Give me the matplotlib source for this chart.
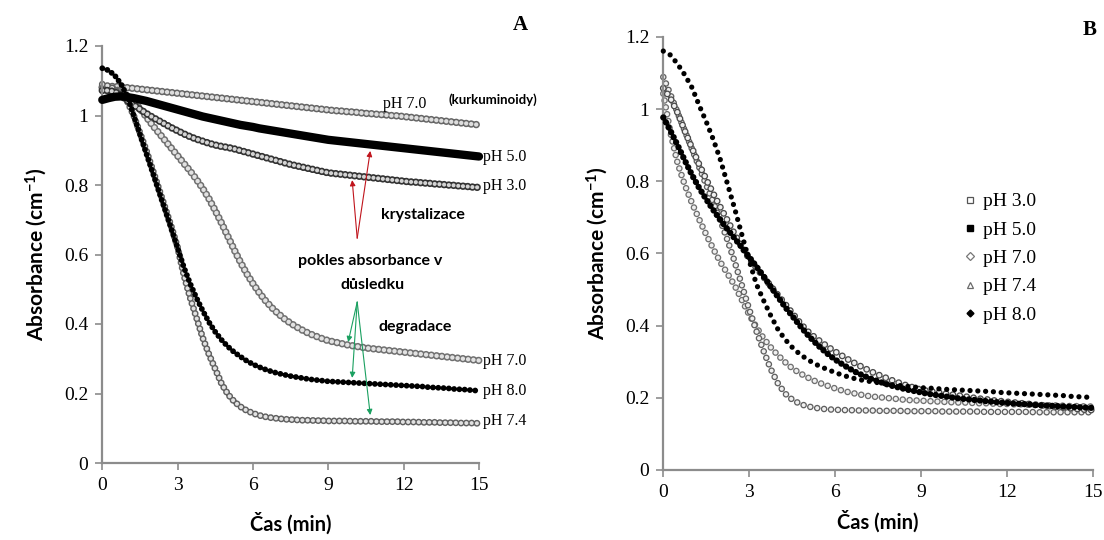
import matplotlib
matplotlib.use("Agg")
import matplotlib.pyplot as plt
from matplotlib.lines import Line2D

plt.rcParams['mathtext.fontset'] = 'custom'
plt.rcParams['mathtext.rm'] = 'Lato:bold'
plt.rcParams['mathtext.it'] = 'Lato:bold'
plt.rcParams['mathtext.bf'] = 'Lato:bold'
plt.rcParams['lines.scale_dashes'] = False

# ---------------- data ----------------
T = [0, 0.25, 0.5, 0.75, 1, 1.25, 1.5, 1.75, 2, 2.25, 2.5, 2.75,
     3, 3.25, 3.5, 3.75, 4, 4.25, 4.5, 4.75, 5, 5.25, 5.5, 5.75,
     6, 6.25, 6.5, 6.75, 7, 7.25, 7.5, 7.75, 8, 8.25, 8.5, 8.75,
     9, 9.25, 9.5, 9.75, 10, 10.25, 10.5, 10.75, 11, 11.25, 11.5, 11.75,
     12, 12.25, 12.5, 12.75, 13, 13.25, 13.5, 13.75, 14, 14.25, 14.5, 14.75,
     15]

# Panel A
A_K70 = [1.080, 1.083, 1.084, 1.082, 1.080, 1.078, 1.076, 1.074, 1.072, 1.070, 1.068, 1.066,
         1.064, 1.062, 1.060, 1.058, 1.056, 1.054, 1.052, 1.050, 1.048, 1.046, 1.044, 1.042,
         1.040, 1.038, 1.036, 1.034, 1.032, 1.030, 1.028, 1.026, 1.024, 1.022, 1.020, 1.018,
         1.016, 1.014, 1.013, 1.011, 1.010, 1.008, 1.006, 1.005, 1.003, 1.002, 1.000, 0.999,
         0.997, 0.995, 0.993, 0.991, 0.989, 0.987, 0.985, 0.983, 0.981, 0.979, 0.977, 0.975,
         0.973]
A_P50 = [1.045, 1.050, 1.054, 1.055, 1.053, 1.050, 1.046, 1.042, 1.037, 1.032, 1.027, 1.022,
         1.017, 1.012, 1.007, 1.002, 0.997, 0.993, 0.989, 0.985, 0.981, 0.977, 0.973, 0.970,
         0.967, 0.963, 0.960, 0.957, 0.954, 0.951, 0.948, 0.945, 0.942, 0.939, 0.936, 0.933,
         0.930, 0.928, 0.926, 0.924, 0.922, 0.920, 0.918, 0.916, 0.914, 0.912, 0.910, 0.908,
         0.906, 0.904, 0.902, 0.900, 0.898, 0.896, 0.894, 0.892, 0.890, 0.888, 0.886, 0.884,
         0.882]
A_P30 = [1.072, 1.072, 1.068, 1.058, 1.043, 1.030, 1.018, 1.006, 0.995, 0.985, 0.975, 0.965,
         0.956, 0.947, 0.939, 0.932, 0.926, 0.920, 0.915, 0.911, 0.908, 0.904, 0.899, 0.894,
         0.889, 0.884, 0.879, 0.874, 0.869, 0.864, 0.859, 0.855, 0.851, 0.847, 0.843, 0.839,
         0.835, 0.833, 0.831, 0.829, 0.827, 0.825, 0.823, 0.821, 0.819, 0.817, 0.815, 0.813,
         0.811, 0.809, 0.808, 0.806, 0.805, 0.803, 0.802, 0.800, 0.799, 0.797, 0.796, 0.794,
         0.793]
A_P70 = [1.082, 1.080, 1.076, 1.068, 1.056, 1.040, 1.020, 0.996, 0.972, 0.950, 0.928, 0.906,
         0.884, 0.862, 0.840, 0.816, 0.790, 0.760, 0.726, 0.690, 0.652, 0.614, 0.578, 0.545,
         0.516, 0.490, 0.467, 0.447, 0.430, 0.415, 0.402, 0.391, 0.381, 0.372, 0.365, 0.358,
         0.352, 0.348, 0.344, 0.340, 0.337, 0.334, 0.331, 0.329, 0.327, 0.325, 0.323, 0.321,
         0.319, 0.317, 0.315, 0.313, 0.311, 0.309, 0.307, 0.305, 0.303, 0.301, 0.299, 0.297,
         0.295]
A_P80 = [1.136, 1.130, 1.115, 1.090, 1.055, 1.000, 0.945, 0.891, 0.837, 0.782, 0.728, 0.673,
         0.618, 0.563, 0.516, 0.475, 0.438, 0.405, 0.377, 0.354, 0.335, 0.319, 0.306, 0.294,
         0.284, 0.276, 0.269, 0.263, 0.258, 0.254, 0.250, 0.247, 0.244, 0.241, 0.239, 0.237,
         0.235, 0.234, 0.233, 0.232, 0.231, 0.230, 0.229, 0.228, 0.227, 0.226, 0.225, 0.224,
         0.223, 0.222, 0.221, 0.220, 0.218, 0.217, 0.216, 0.215, 0.213, 0.212, 0.211, 0.209,
         0.208]
A_P74 = [1.090, 1.085, 1.075, 1.060, 1.040, 1.000, 0.950, 0.900, 0.845, 0.790, 0.735, 0.680,
         0.620, 0.540, 0.475, 0.418, 0.360, 0.312, 0.270, 0.228, 0.198, 0.177, 0.162, 0.151,
         0.143, 0.137, 0.133, 0.130, 0.128, 0.126, 0.125, 0.124, 0.123, 0.123, 0.122, 0.122,
         0.121, 0.121, 0.121, 0.121, 0.120, 0.120, 0.120, 0.120, 0.119, 0.119, 0.119, 0.119,
         0.118, 0.118, 0.118, 0.117, 0.117, 0.117, 0.116, 0.116, 0.116, 0.115, 0.115, 0.115,
         0.114]

# Panel B
B_P30 = [1.058, 1.030, 0.990, 0.940, 0.892, 0.847, 0.805, 0.765, 0.727, 0.690, 0.652, 0.618,
         0.585, 0.560, 0.535, 0.510, 0.485, 0.460, 0.435, 0.410, 0.387, 0.370, 0.355, 0.341,
         0.328, 0.316, 0.304, 0.293, 0.283, 0.273, 0.264, 0.256, 0.248, 0.241, 0.234, 0.228,
         0.222, 0.219, 0.216, 0.213, 0.210, 0.207, 0.204, 0.201, 0.198, 0.196, 0.193, 0.191,
         0.189, 0.187, 0.185, 0.183, 0.181, 0.179, 0.177, 0.175, 0.173, 0.171, 0.169, 0.167,
         0.166]
B_P50 = [0.977, 0.940, 0.900, 0.858, 0.818, 0.782, 0.750, 0.720, 0.692, 0.666, 0.641, 0.616,
         0.590, 0.564, 0.537, 0.508, 0.480, 0.452, 0.427, 0.402, 0.378, 0.357, 0.338, 0.321,
         0.306, 0.293, 0.281, 0.270, 0.261, 0.253, 0.246, 0.239, 0.233, 0.228, 0.223, 0.219,
         0.215, 0.211, 0.208, 0.205, 0.202, 0.199, 0.197, 0.195, 0.193, 0.191, 0.189, 0.187,
         0.186, 0.184, 0.183, 0.182, 0.180, 0.179, 0.178, 0.177, 0.176, 0.175, 0.174, 0.173,
         0.172]
B_P70 = [1.043, 0.935, 0.850, 0.790, 0.740, 0.695, 0.652, 0.612, 0.575, 0.543, 0.510, 0.470,
         0.430, 0.396, 0.365, 0.340, 0.318, 0.299, 0.282, 0.269, 0.258, 0.248, 0.240, 0.233,
         0.226, 0.220, 0.215, 0.211, 0.207, 0.204, 0.202, 0.200, 0.198, 0.196, 0.194, 0.193,
         0.192, 0.191, 0.190, 0.189, 0.188, 0.187, 0.187, 0.186, 0.185, 0.185, 0.184, 0.183,
         0.183, 0.182, 0.182, 0.181, 0.180, 0.180, 0.179, 0.179, 0.178, 0.177, 0.177, 0.176,
         0.176]
B_P74 = [1.089, 1.040, 0.990, 0.940, 0.890, 0.840, 0.790, 0.740, 0.690, 0.635, 0.575, 0.510,
         0.445, 0.385, 0.330, 0.280, 0.240, 0.212, 0.195, 0.184, 0.177, 0.173, 0.170, 0.168,
         0.167, 0.166, 0.166, 0.165, 0.165, 0.165, 0.164, 0.164, 0.164, 0.164, 0.163, 0.163,
         0.163, 0.163, 0.163, 0.162, 0.162, 0.162, 0.162, 0.162, 0.162, 0.161, 0.161, 0.161,
         0.161, 0.161, 0.161, 0.161, 0.160, 0.160, 0.160, 0.160, 0.160, 0.160, 0.160, 0.160,
         0.160]
B_P80 = [1.161, 1.150, 1.125, 1.095, 1.060, 1.011, 0.965, 0.915, 0.858, 0.790, 0.722, 0.650,
         0.580, 0.515, 0.470, 0.428, 0.390, 0.362, 0.340, 0.322, 0.308, 0.296, 0.286, 0.278,
         0.270, 0.263, 0.257, 0.252, 0.248, 0.245, 0.242, 0.239, 0.236, 0.234, 0.232, 0.230,
         0.228, 0.227, 0.226, 0.224, 0.223, 0.222, 0.221, 0.220, 0.219, 0.218, 0.217, 0.215,
         0.214, 0.213, 0.212, 0.211, 0.210, 0.209, 0.208, 0.207, 0.206, 0.204, 0.203, 0.202,
         0.201]

X_TICKS = [0, 3, 6, 9, 12, 15]
Y_TICKS = [0, 0.2, 0.4, 0.6, 0.8, 1.0, 1.2]
Y_TICK_LABELS = ['0', '0.2', '0.4', '0.6', '0.8', '1', '1.2']
LEGEND_LABELS = ['pH 3.0', 'pH 5.0', 'pH 7.0', 'pH 7.4', 'pH 8.0']

SERIF = 'Liberation Serif'
SANS = 'Lato'
SPINE = '#8c8c8c'

W, H = 1104, 540
fig = plt.figure(figsize=(W / 100, H / 100), dpi=100)
fig.patch.set_facecolor('white')

axA = fig.add_axes([102.3 / W, 1 - 463 / H, (479 - 102.3) / W, (463 - 46) / H])
axB = fig.add_axes([663.3 / W, 1 - 470 / H, (1093 - 663.3) / W, (470 - 37) / H])


def style_axes(ax, xpad):
    ax.set_xlim(0, 15)
    ax.set_ylim(0, 1.2)
    for s in ['top', 'right']:
        ax.spines[s].set_visible(False)
    for s in ['left', 'bottom']:
        ax.spines[s].set_color(SPINE)
        ax.spines[s].set_linewidth(1.6)
    ax.set_xticks(X_TICKS)
    ax.set_xticklabels([str(v) for v in X_TICKS])
    ax.set_yticks(Y_TICKS)
    ax.set_yticklabels(Y_TICK_LABELS)
    ax.tick_params(direction='out', length=5, width=1.2, color=SPINE,
                   labelsize=14, pad=5)
    for lab in ax.get_xticklabels() + ax.get_yticklabels():
        lab.set_fontfamily(SERIF)
    ax.set_xlabel('Čas (min)', fontfamily=SANS, fontweight='bold', fontsize=14.5, labelpad=xpad)
    ax.set_ylabel('Absorbance (cm$^{-1}$)', fontfamily=SANS, fontweight='bold',
                  fontsize=15, labelpad=11)


def dots(ax, y, size, gap, color, z):
    ax.plot(T, y, color=color, lw=size, linestyle=(0, (0.01, gap)),
            dash_capstyle='round', clip_on=False, zorder=z)


def rings(ax, y, size, inner, gap, edge, fill='white', z=2):
    dots(ax, y, size, gap, edge, z)
    dots(ax, y, inner, gap, fill, z + 0.01)


# ---------- Panel A ----------
style_axes(axA, 13)
rings(axA, A_K70, 5.4, 3.2, 3.6, '#666666', fill='#dedede', z=2)
rings(axA, A_P70, 5.4, 3.2, 3.8, '#707070', fill='#e2e2e2', z=2.1)
rings(axA, A_P74, 5.0, 2.9, 3.8, '#606060', fill='#e2e2e2', z=2.2)
rings(axA, A_P30, 5.4, 3.0, 3.4, '#333333', fill='#d4d4d4', z=2.3)
axA.plot(T, A_P50, color='black', lw=6.0, solid_capstyle='round', clip_on=False, zorder=3)
dots(axA, A_P80, 4.2, 3.8, 'black', 3.1)

lab_kw = dict(fontfamily=SERIF, fontsize=11.5, va='center', ha='left', annotation_clip=False)
axA.annotate('pH 7.0', xy=(11.18, 1.033), **lab_kw)
axA.annotate('(kurkuminoidy)', xy=(13.77, 1.047), fontfamily=SANS, fontweight='bold',
             fontsize=9.5, va='center', ha='left', annotation_clip=False)
axA.annotate('pH 5.0', xy=(15.15, 0.881), **lab_kw)
axA.annotate('pH 3.0', xy=(15.15, 0.797), **lab_kw)
axA.annotate('pH 7.0', xy=(15.15, 0.294), **lab_kw)
axA.annotate('pH 8.0', xy=(15.15, 0.207), **lab_kw)
axA.annotate('pH 7.4', xy=(15.15, 0.121), **lab_kw)

txt_kw = dict(fontfamily=SANS, fontweight='bold', fontsize=11.5, ha='center', va='center')
axA.text(12.77, 0.714, 'krystalizace', **txt_kw)
axA.text(10.67, 0.581, 'pokles absorbance v', **txt_kw)
axA.text(10.75, 0.512, 'důsledku', **txt_kw)
axA.text(12.46, 0.391, 'degradace', **txt_kw)

red = dict(arrowstyle='-|>', color='#c0141c', lw=0.8, mutation_scale=8, shrinkA=0, shrinkB=0)
grn = dict(arrowstyle='-|>', color='#1aa060', lw=0.8, mutation_scale=8, shrinkA=0, shrinkB=0)
for tip in [(9.95, 0.814), (10.67, 0.898)]:
    axA.annotate('', xy=tip, xytext=(10.15, 0.647), arrowprops=red, zorder=5)
for tip in [(9.79, 0.348), (9.95, 0.245), (10.67, 0.138)]:
    axA.annotate('', xy=tip, xytext=(10.15, 0.463), arrowprops=grn, zorder=5)

fig.text(520 / W, 1 - 25 / H, 'A', fontfamily=SERIF, fontweight='bold', fontsize=15,
         ha='center', va='center')

# ---------- Panel B ----------
style_axes(axB, 7)
rings(axB, B_P70, 4.8, 2.9, 5.0, '#707070', fill='#f0f0f0', z=2)
rings(axB, B_P74, 4.8, 2.9, 5.0, '#606060', fill='#f0f0f0', z=2.1)
rings(axB, B_P30, 5.0, 3.1, 5.0, '#4a4a4a', fill='#f0f0f0', z=2.2)
dots(axB, B_P50, 4.6, 4.0, 'black', 3)
dots(axB, B_P80, 3.8, 5.6, 'black', 3.1)

handles = [
    Line2D([], [], linestyle='none', marker='s', markersize=4.5, markerfacecolor='none',
           markeredgecolor='#555555', markeredgewidth=0.9),
    Line2D([], [], linestyle='none', marker='s', markersize=4.5, markerfacecolor='black',
           markeredgecolor='black'),
    Line2D([], [], linestyle='none', marker='D', markersize=4.0, markerfacecolor='none',
           markeredgecolor='#777777', markeredgewidth=0.9),
    Line2D([], [], linestyle='none', marker='^', markersize=5.0, markerfacecolor='none',
           markeredgecolor='#6a6a6a', markeredgewidth=0.9),
    Line2D([], [], linestyle='none', marker='D', markersize=3.5, markerfacecolor='black',
           markeredgecolor='black'),
]
leg = axB.legend(handles, LEGEND_LABELS, loc='upper left', bbox_to_anchor=(0.70, 0.64),
                 frameon=False, prop={'family': SERIF, 'size': 14}, handlelength=0.6,
                 handletextpad=0.35, labelspacing=0.55, borderpad=0, borderaxespad=0)

fig.text(1090 / W, 1 - 30 / H, 'B', fontfamily=SERIF, fontweight='bold', fontsize=15,
         ha='center', va='center')

fig.savefig('out.png', dpi=100)
